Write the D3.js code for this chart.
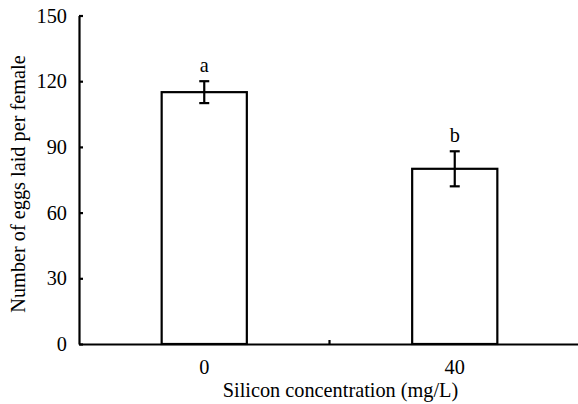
<!DOCTYPE html>
<html>
<head>
<meta charset="utf-8">
<script src="https://cdn.jsdelivr.net/npm/d3@7"></script>
</head>
<body style="margin:0;background:#fff">
<svg id="chart" width="578" height="404" font-family="Liberation Serif"></svg>
<script>
const categories = ["0", "40"];
const means = [115, 80];
const errors = [5, 8];
const letters = ["a", "b"];
const yTicks = [0, 30, 60, 90, 120, 150];
const xTitle = "Silicon concentration (mg/L)";
const yTitle = "Number of eggs laid per female";

const mLeft = 79, mRight = 580, mTop = 15.5, mBottom = 344;
const FONT = "Liberation Serif";
const FS = 20.3;
const svg = d3.select("#chart");

const x = d3.scaleBand().domain(categories).range([mLeft, mRight]).paddingInner(0.66).paddingOuter(0.33);
const y = d3.scaleLinear().domain([0, 150]).range([mBottom, mTop]);

// bars
svg.append("g").selectAll("rect").data(categories).join("rect")
  .attr("x", d => x(d))
  .attr("y", (d, i) => y(means[i]))
  .attr("width", x.bandwidth())
  .attr("height", (d, i) => y(0) - y(means[i]))
  .attr("fill", "#fff").attr("stroke", "#000").attr("stroke-width", 2.2);

// error bars
const eg = svg.append("g").attr("stroke", "#000").attr("stroke-width", 2.2);
categories.forEach((c, i) => {
  const cx = x(c) + x.bandwidth() / 2;
  const y1 = y(means[i] + errors[i]), y2 = y(means[i] - errors[i]);
  eg.append("line").attr("x1", cx).attr("x2", cx).attr("y1", y1).attr("y2", y2);
  eg.append("line").attr("x1", cx - 5).attr("x2", cx + 5).attr("y1", y1).attr("y2", y1);
  eg.append("line").attr("x1", cx - 5).attr("x2", cx + 5).attr("y1", y2).attr("y2", y2);
  svg.append("text").attr("x", cx).attr("y", y1 - 9).attr("text-anchor", "middle")
    .attr("font-family", FONT).attr("font-size", FS).attr("fill", "#000").text(letters[i]);
});

// y axis
const yAxis = svg.append("g").attr("transform", `translate(${mLeft},0)`)
  .call(d3.axisLeft(y).tickValues(yTicks).tickSizeInner(-4).tickSizeOuter(0).tickPadding(12));
yAxis.attr("font-family", FONT).attr("font-size", FS);
yAxis.select(".domain").attr("stroke", "#000").attr("stroke-width", 2.2);
yAxis.selectAll(".tick line").attr("stroke", "#000").attr("stroke-width", 2.2);
yAxis.selectAll("text").attr("fill", "#000").attr("font-family", FONT);

// x axis
const xAxis = svg.append("g").attr("transform", `translate(0,${mBottom})`)
  .call(d3.axisBottom(x).tickSize(0).tickPadding(16));
xAxis.attr("font-family", FONT).attr("font-size", FS);
xAxis.select(".domain").attr("stroke", "#000").attr("stroke-width", 2.2);
xAxis.selectAll("text").attr("fill", "#000").attr("font-family", FONT);
// boundary tick between categories
const bx = x(categories[0]) - x.step() * x.paddingOuter() + x.step();
xAxis.append("line").attr("x1", bx).attr("x2", bx).attr("y1", 0).attr("y2", -4)
  .attr("stroke", "#000").attr("stroke-width", 2.2);

// titles
svg.append("text").attr("x", 340.5).attr("y", 397).attr("text-anchor", "middle")
  .attr("font-family", FONT).attr("font-size", FS).attr("fill", "#000").text(xTitle);
svg.append("text").attr("transform", `translate(25,184) rotate(-90)`).attr("text-anchor", "middle")
  .attr("font-family", FONT).attr("font-size", FS).attr("fill", "#000").text(yTitle);
</script>
</body>
</html>
